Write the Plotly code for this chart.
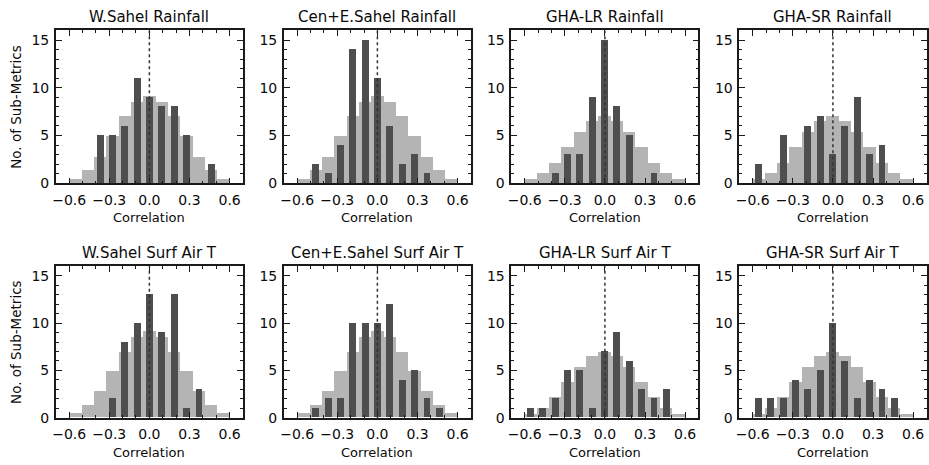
import numpy as np
import plotly.graph_objects as go

# ---- data ----
bin_edges = np.linspace(-0.6, 0.6, 14)          # 13 correlation bins
bin_centers = (bin_edges[:-1] + bin_edges[1:]) / 2

titles = ["W.Sahel Rainfall", "Cen+E.Sahel Rainfall", "GHA-LR Rainfall", "GHA-SR Rainfall",
          "W.Sahel Surf Air T", "Cen+E.Sahel Surf Air T", "GHA-LR Surf Air T", "GHA-SR Surf Air T"]

expected_sahel = [0.45, 1.35, 2.75, 4.9, 6.95, 8.5, 9.1, 8.5, 6.95, 4.9, 2.75, 1.35, 0.45]
expected_gha = [0.35, 1.0, 2.1, 3.75, 5.3, 6.5, 6.95, 6.5, 5.3, 3.75, 2.1, 1.0, 0.35]

w_sahel_rain = [0, 0, 5, 5, 6, 11, 9, 8, 8, 5, 0, 2, 0]
ce_sahel_rain = [0, 2, 1, 4, 14, 15, 11, 6, 2, 3, 1, 0, 0]
gha_lr_rain = [0, 0, 1, 3, 3, 9, 15, 8, 5, 0, 1, 0, 0]
gha_sr_rain = [2, 0, 5, 0, 6, 7, 3, 6, 9, 3, 4, 0, 0]
w_sahel_t = [0, 0, 0, 2, 8, 10, 13, 9, 13, 1, 3, 0, 0]
ce_sahel_t = [0, 1, 2, 2, 10, 10, 10, 12, 4, 5, 2, 1, 0]
gha_lr_t = [1, 1, 2, 5, 5, 1, 7, 9, 6, 3, 2, 3, 0]
gha_sr_t = [2, 2, 2, 4, 3, 5, 10, 6, 2, 4, 3, 2, 0]

observed = [w_sahel_rain, ce_sahel_rain, gha_lr_rain, gha_sr_rain,
            w_sahel_t, ce_sahel_t, gha_lr_t, gha_sr_t]
expected = [expected_sahel, expected_sahel, expected_gha, expected_gha,
            expected_sahel, expected_sahel, expected_gha, expected_gha]

# ---- layout geometry (pixels) ----
W, H = 929, 465
col_left = [52, 281, 509.5, 738.5]
col_w = 188
row_top = [31, 271]
row_bot = [186.5, 425]

LIGHT = "#b4b4b4"
DARK = "#4e4e4e"
AXC = "#1a1a1a"
FONT = "DejaVu Sans"
TXT = "#0a0a0a"

bin_w = bin_edges[1] - bin_edges[0]

fig = go.Figure()
annotations = []
shapes = []

for i in range(8):
    r, c = divmod(i, 4)
    n = i + 1
    xa = "x" if n == 1 else f"x{n}"
    ya = "y" if n == 1 else f"y{n}"
    fig.add_trace(go.Bar(x=bin_centers, y=expected[i], width=bin_w, marker_color=LIGHT,
                         marker_line_width=0, xaxis=xa, yaxis=ya, showlegend=False,
                         hoverinfo="skip"))
    fig.add_trace(go.Bar(x=bin_centers, y=observed[i], width=bin_w * 0.56, marker_color=DARK,
                         marker_line_width=0, xaxis=xa, yaxis=ya, showlegend=False,
                         hoverinfo="skip"))
    x0 = col_left[c] / W
    x1 = (col_left[c] + col_w) / W
    y0 = 1 - row_bot[r] / H
    y1 = 1 - row_top[r] / H
    axis_common = dict(showline=True, linecolor=AXC, linewidth=1.5, mirror="allticks",
                       ticks="inside", tickcolor=AXC, tickwidth=1, showgrid=False, zeroline=False,
                       tickfont=dict(family=FONT, size=14, color=TXT))
    fig.layout[f"xaxis{'' if n == 1 else n}"] = dict(
        domain=[x0, x1], anchor=ya, range=[-0.7, 0.7], tickmode="linear", tick0=0, dtick=0.3,
        tickformat=".1f", ticklen=6, ticklabelstandoff=3,
        minor=dict(ticks="inside", tick0=0, dtick=0.1, ticklen=3, tickcolor=AXC), **axis_common)
    fig.layout[f"yaxis{'' if n == 1 else n}"] = dict(
        domain=[y0, y1], anchor=xa, range=[0, 16], tickmode="linear", tick0=0, dtick=5, ticklen=6,
        ticklabelstandoff=2,
        minor=dict(ticks="inside", tick0=0, dtick=1, ticklen=3, tickcolor=AXC), **axis_common)
    shapes.append(dict(type="line", xref=xa, yref=ya, x0=0, x1=0, y0=0, y1=16, layer="above",
                       line=dict(color="#333", width=1.5, dash="dot")))
    # panel title
    annotations.append(dict(text=titles[i], xref="paper", yref="paper",
                            x=(x0 + x1) / 2, y=1 - (row_top[r] - 14) / H,
                            xanchor="center", yanchor="middle", showarrow=False,
                            font=dict(family=FONT, size=15, color=TXT)))
    # x-axis title
    annotations.append(dict(text="Correlation", xref="paper", yref="paper",
                            x=(x0 + x1) / 2, y=1 - (row_bot[r] + 35) / H,
                            xanchor="center", yanchor="middle", showarrow=False,
                            font=dict(family=FONT, size=13, color=TXT)))

for r in range(2):
    annotations.append(dict(text="No. of Sub-Metrics", xref="paper", yref="paper",
                            x=12 / W, y=1 - ((row_top[r] + row_bot[r]) / 2) / H, textangle=-90,
                            xanchor="center", yanchor="middle", showarrow=False,
                            font=dict(family=FONT, size=13.5, color=TXT)))

fig.update_layout(width=W, height=H, margin=dict(l=0, r=0, t=0, b=0),
                  plot_bgcolor="white", paper_bgcolor="white", barmode="overlay", bargap=0,
                  annotations=annotations, shapes=shapes, hovermode=False,
                  font=dict(family=FONT, color=TXT))

fig.write_html("out.html", config={"displayModeBar": False},
               post_script="document.body.style.margin='0';")
